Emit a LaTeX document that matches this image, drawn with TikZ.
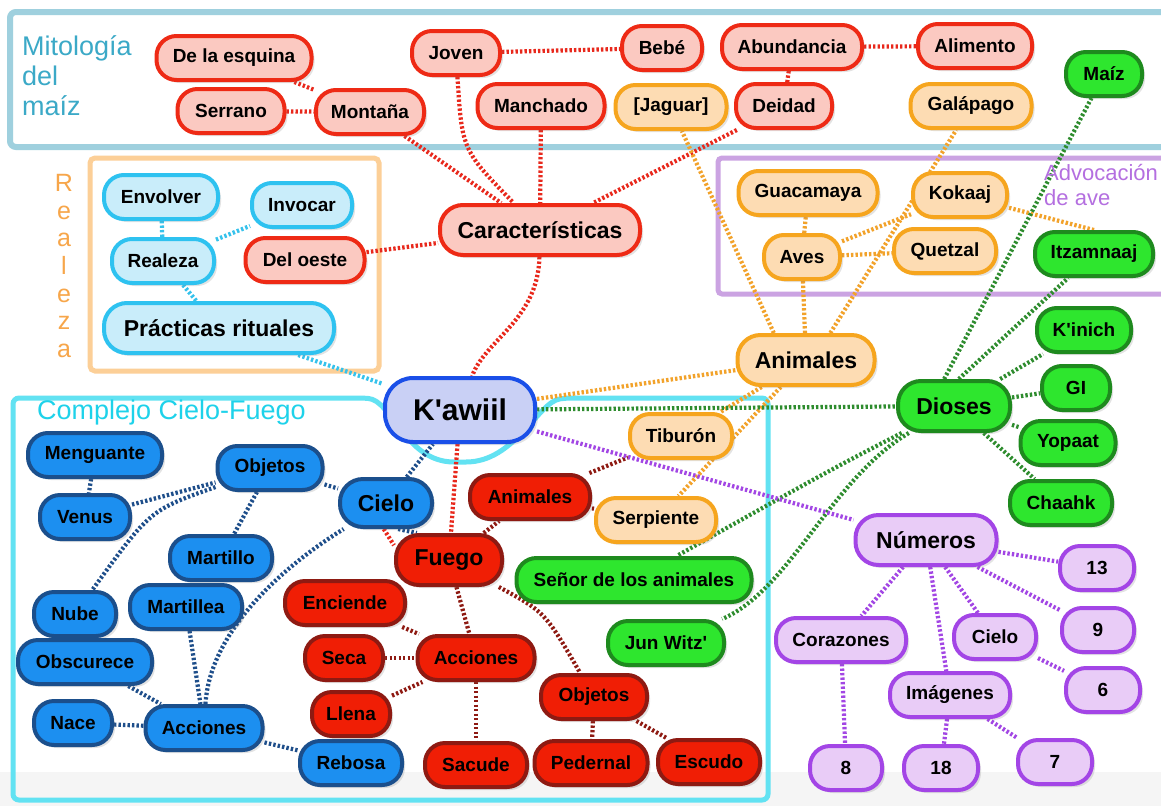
\documentclass[tikz,border=0pt]{standalone}
\usepackage{fontspec}
\setmainfont{Liberation Sans}[Ligatures=TeXOff]
\usetikzlibrary{shadows}
\pgfdeclarelayer{bg}\pgfdeclarelayer{lines}
\pgfsetlayers{bg,lines,main}
\definecolor{redB}{HTML}{EE2A15}\definecolor{redF}{HTML}{FBC9C1}
\definecolor{oraB}{HTML}{F6A51E}\definecolor{oraF}{HTML}{FDDCB3}
\definecolor{cyaB}{HTML}{2EC2F0}\definecolor{cyaF}{HTML}{C9EDFA}
\definecolor{grnB}{HTML}{1E8A1E}\definecolor{grnF}{HTML}{2EE62E}
\definecolor{purB}{HTML}{A345E6}\definecolor{purF}{HTML}{E9CCF7}
\definecolor{bluB}{HTML}{1B4F8C}\definecolor{bluF}{HTML}{1C8FF0}
\definecolor{drB}{HTML}{8E1A12}\definecolor{drF}{HTML}{F01E05}
\definecolor{kwB}{HTML}{1A4FE8}\definecolor{kwF}{HTML}{C9D0F5}
\definecolor{lnR}{HTML}{E8281C}\definecolor{lnDR}{HTML}{8E1A12}
\definecolor{lnB}{HTML}{1E4E8A}\definecolor{lnC}{HTML}{35C2EC}
\definecolor{lnO}{HTML}{F2A22A}\definecolor{lnG}{HTML}{2E8C2E}
\definecolor{lnP}{HTML}{A246E4}
\definecolor{topBox}{HTML}{9FD0DE}\definecolor{topTxt}{HTML}{3BA9C7}
\definecolor{reBox}{HTML}{FCCF97}\definecolor{reTxt}{HTML}{F7A64A}
\definecolor{puBox}{HTML}{CBA3E2}\definecolor{puTxt}{HTML}{B46FE0}
\definecolor{cyBox}{HTML}{62E2F2}\definecolor{cyTxt}{HTML}{1ED2EA}
\newcommand\ndfont{\fontsize{19}{22}\selectfont\bfseries}
\newcommand\bgfont{\fontsize{23}{26}\selectfont\bfseries}
\newcommand\kwfont{\fontsize{30}{34}\selectfont\bfseries}
\begin{document}
\begin{tikzpicture}[x=1pt,y=-1pt,
  nd/.style={rounded corners=20pt, line width=4pt, minimum height=44pt, inner sep=0pt, font=\ndfont,
    drop shadow={shadow xshift=3pt, shadow yshift=-3pt, opacity=0.22}},
  big/.style={minimum height=50pt, font=\bgfont, rounded corners=23pt},
  pk/.style={nd, draw=redB, fill=redF},
  orn/.style={nd, draw=oraB, fill=oraF},
  cy/.style={nd, draw=cyaB, fill=cyaF},
  gn/.style={nd, draw=grnB, fill=grnF},
  pu/.style={nd, draw=purB, fill=purF},
  bl/.style={nd, draw=bluB, fill=bluF},
  dr/.style={nd, draw=drB, fill=drF},
  kw/.style={nd, draw=kwB, fill=kwF, minimum height=64pt, rounded corners=28pt, font=\kwfont},
  ln/.style={line width=4.2pt, dash pattern=on 2.4pt off 2.1pt},
  lr/.style={ln, draw=lnR}, ldr/.style={ln, draw=lnDR}, lb/.style={ln, draw=lnB},
  lc/.style={ln, draw=lnC}, lo/.style={ln, draw=lnO}, lg/.style={ln, draw=lnG},
  lp/.style={ln, draw=lnP}]
\useasboundingbox (0,0) rectangle (1161,806);

% ---------- nodes ----------
% red light
\node[pk, minimum width=155pt] (esq) at (234,58) {De la esquina};
\node[pk, minimum width=107pt] (serr) at (231,111) {Serrano};
\node[pk, minimum width=108pt] (mont) at (370,112) {Montaña};
\node[pk, minimum width=88pt] (joven) at (456,53) {Joven};
\node[pk, minimum width=80pt] (bebe) at (662,48) {Bebé};
\node[pk, minimum width=127pt] (manch) at (541,106) {Manchado};
\node[pk, minimum width=140pt] (abund) at (792,47) {Abundancia};
\node[pk, minimum width=96pt] (deid) at (784,106) {Deidad};
\node[pk, minimum width=114pt] (alim) at (975,46) {Alimento};
\node[pk, minimum width=119pt] (oeste) at (305,260) {Del oeste};
\node[pk, big, minimum width=200pt] (car) at (540,230) {Características};
% orange
\node[orn, minimum width=111pt] (jag) at (671,107) {[Jaguar]};
\node[orn, minimum width=121pt] (gal) at (971,106) {Galápago};
\node[orn, minimum width=139pt] (guac) at (808,193) {Guacamaya};
\node[orn, minimum width=94pt] (kok) at (960,195) {Kokaaj};
\node[orn, minimum width=76pt] (aves) at (802,257) {Aves};
\node[orn, minimum width=102pt] (quet) at (945,251) {Quetzal};
\node[orn, big, minimum width=137pt] (animo) at (806,360) {Animales};
\node[orn, minimum width=102pt] (tib) at (681,436) {Tiburón};
\node[orn, minimum width=120pt] (serp) at (656,520) {Serpiente};
% light blue
\node[cy, minimum width=114pt] (env) at (161,197) {Envolver};
\node[cy, minimum width=100pt] (inv) at (302,205) {Invocar};
\node[cy, minimum width=102pt] (real) at (163,261) {Realeza};
\node[cy, big, minimum width=230pt] (prac) at (219,328) {Prácticas rituales};
% center
\node[kw, minimum width=150pt] (kaw) at (460,410) {K'awiil};
% green
\node[gn, minimum width=76pt] (maiz) at (1104,74) {Maíz};
\node[gn, minimum width=118pt] (itz) at (1094,254) {Itzamnaaj};
\node[gn, minimum width=94pt] (kin) at (1084,330) {K'inich};
\node[gn, minimum width=68pt] (gi) at (1076,388) {GI};
\node[gn, big, minimum width=112pt] (dios) at (954,406) {Dioses};
\node[gn, minimum width=95pt] (yop) at (1068,443) {Yopaat};
\node[gn, minimum width=102pt] (chaa) at (1061,503) {Chaahk};
\node[gn, minimum width=235pt] (senor) at (634,580) {Señor de los animales};
\node[gn, minimum width=116pt] (jun) at (666,643) {Jun Witz'};
% purple
\node[pu, big, minimum width=141pt] (num) at (926,540) {Números};
\node[pu, minimum width=74pt] (n13) at (1097,568) {13};
\node[pu, minimum width=130pt] (cor) at (841,640) {Corazones};
\node[pu, minimum width=82pt] (cielp) at (995,637) {Cielo};
\node[pu, minimum width=72pt] (n9) at (1098,630) {9};
\node[pu, minimum width=74pt] (n6) at (1103,690) {6};
\node[pu, minimum width=120pt] (img) at (950,695) {Imágenes};
\node[pu, minimum width=72pt] (n8) at (846,768) {8};
\node[pu, minimum width=74pt] (n18) at (941,768) {18};
\node[pu, minimum width=74pt] (n7) at (1055,762) {7};
% blue
\node[bl, minimum width=134pt] (meng) at (95,455) {Menguante};
\node[bl, minimum width=105pt] (objb) at (270,468) {Objetos};
\node[bl, minimum width=90pt] (venus) at (85,517) {Venus};
\node[bl, big, minimum width=92pt, minimum height=48pt] (cielb) at (386,503) {Cielo};
\node[bl, minimum width=102pt] (mart) at (221,558) {Martillo};
\node[bl, minimum width=82pt] (nube) at (75,614) {Nube};
\node[bl, minimum width=112pt] (marta) at (186,607) {Martillea};
\node[bl, minimum width=134pt] (obsc) at (85,662) {Obscurece};
\node[bl, minimum width=78pt] (nace) at (73,723) {Nace};
\node[bl, minimum width=117pt] (accb) at (204,728) {Acciones};
\node[bl, minimum width=102pt] (reb) at (351,763) {Rebosa};
% dark red
\node[dr, minimum width=120pt] (animr) at (530,497) {Animales};
\node[dr, big, minimum width=106pt] (fue) at (449,560) {Fuego};
\node[dr, minimum width=120pt] (enc) at (345,603) {Enciende};
\node[dr, minimum width=78pt] (seca) at (344,658) {Seca};
\node[dr, minimum width=117pt] (accr) at (476,658) {Acciones};
\node[dr, minimum width=78pt] (llena) at (351,714) {Llena};
\node[dr, minimum width=106pt] (objr) at (594,697) {Objetos};
\node[dr, minimum width=102pt] (sac) at (476,765) {Sacude};
\node[dr, minimum width=113pt] (ped) at (591,763) {Pedernal};
\node[dr, minimum width=102pt] (esc) at (709,762) {Escudo};

% ---------- group labels ----------
\node[anchor=north west, align=left, inner sep=0pt, text=topTxt, font=\fontsize{27}{30}\selectfont] (tmit) at (22,35) {Mitología\\del\\maíz};
\node[align=center, inner sep=0pt, text=reTxt, font=\fontsize{25}{27.7}\selectfont] (treal) at (64,266) {R\\e\\a\\l\\e\\z\\a};
\node[anchor=north west, align=left, inner sep=0pt, text=puTxt, font=\fontsize{22}{25}\selectfont] (tadv) at (1044,164) {Advocación\\de ave};
\node[anchor=north west, inner sep=0pt, text=cyTxt, font=\fontsize{27}{30}\selectfont] (tcom) at (37,400) {Complejo Cielo-Fuego};

% ---------- group boxes ----------
\begin{pgfonlayer}{bg}
\fill[white] (0,0) rectangle (1161,806);
\fill[black!4] (0,772) rectangle (1161,806);
\draw[topBox, line width=6pt, rounded corners=6pt] (10,12) rectangle (1180,147);
\draw[reBox, line width=5pt, rounded corners=5pt] (90,158) rectangle (379,371);
\draw[puBox, line width=5pt, rounded corners=4pt] (718,158) rectangle (1180,294);
\draw[cyBox, line width=5pt, rounded corners=6pt] (13,800) -- (13,398) -- (362,398)
  .. controls (392,400) and (405,462) .. (460,462) .. controls (515,462) and (538,402) .. (566,398)
  -- (768,398) -- (768,800) -- cycle;
\end{pgfonlayer}

% ---------- connectors ----------
\begin{pgfonlayer}{lines}
\draw[lr] (esq) -- (mont);
\draw[lr] (serr) -- (mont);
\draw[lr] (mont) -- (car);
\draw[lr] (joven) -- (bebe);
\draw[lr] (joven) .. controls (462,150) .. (car);
\draw[lr] (manch) -- (car);
\draw[lr] (abund) -- (deid);
\draw[lr] (abund) -- (alim);
\draw[lr] (deid) -- (car);
\draw[lr] (oeste) -- (car);
\draw[lr] (car) .. controls (538,320) and (485,340) .. (kaw);
\draw[lr] (kaw) -- (fue);
\draw[lr] (cielb.-95) -- (fue.165);
\draw[lb] (cielb.-65) -- (fue.140);
\draw[ldr] (fue) -- (animr);
\draw[ldr] (animr) -- (tib);
\draw[ldr] (animr) -- (serp);
\draw[ldr] (fue) -- (accr);
\draw[ldr] (fue) .. controls (545,612) .. (objr);
\draw[ldr] (enc) -- (accr);
\draw[ldr] (seca) -- (accr);
\draw[ldr] (llena) -- (accr);
\draw[ldr] (accr) -- (sac);
\draw[ldr] (objr) -- (ped);
\draw[ldr] (objr) -- (esc);
\draw[lb] (meng) -- (venus);
\draw[lb] (venus) -- (objb);
\draw[lb] (objb) -- (cielb);
\draw[lb] (objb) -- (mart);
\draw[lb] (objb) .. controls (150,510) .. (nube);
\draw[lb] (marta) -- (accb);
\draw[lb] (obsc) -- (accb);
\draw[lb] (nace) -- (accb);
\draw[lb] (accb) -- (reb);
\draw[lb] (accb) .. controls (210,630) and (285,565) .. (cielb);
\draw[lb] (cielb) -- (kaw);
\draw[lc] (env) -- (real);
\draw[lc] (real) -- (inv);
\draw[lc] (real) -- (prac);
\draw[lc] (prac) -- (kaw);
\draw[lo] (kaw) -- (animo);
\draw[lo] (animo) -- (aves);
\draw[lo] (aves) -- (guac);
\draw[lo] (aves) -- (kok);
\draw[lo] (aves) -- (quet);
\draw[lo] (kok) -- (itz.north);
\draw[lo] (animo.140) -- (jag);
\draw[lo] (animo.48) -- (gal);
\draw[lo] (animo) -- (tib);
\draw[lo] (animo) -- (serp);
\draw[lg] (kaw) -- (dios);
\draw[lg] (dios.110) -- (maiz);
\draw[lg] (dios.80) -- (itz);
\draw[lg] (dios) -- (kin);
\draw[lg] (dios) -- (gi);
\draw[lg] (dios) -- (yop);
\draw[lg] (dios) -- (chaa);
\draw[lg] (dios) .. controls (830,470) .. (senor);
\draw[lg] (dios) .. controls (830,480) and (790,590) .. (jun);
\draw[lp] (kaw) -- (num);
\draw[lp] (num) -- (n13);
\draw[lp] (num) -- (cor);
\draw[lp] (num) -- (img);
\draw[lp] (num) -- (cielp);
\draw[lp] (num) -- (n9);
\draw[lp] (cor) -- (n8);
\draw[lp] (img) -- (n18);
\draw[lp] (img) -- (n7);
\draw[lp] (cielp) -- (n6);
\end{pgfonlayer}
\end{tikzpicture}
\end{document}
